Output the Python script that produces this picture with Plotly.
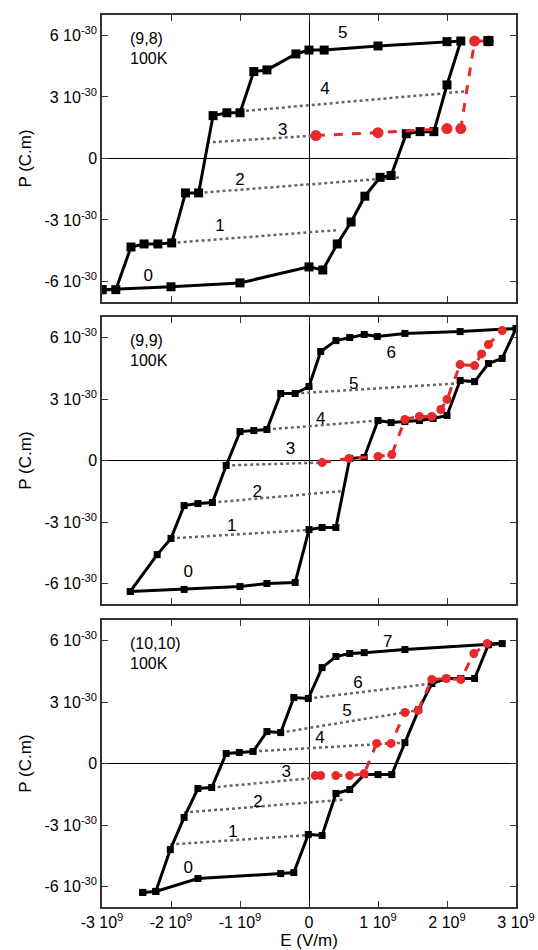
import plotly.graph_objects as go

# ---------------- data (E in 1e9 V/m, P in 1e-30 C.m) ----------------
# Panel 1: (9,8)
p1_black_E = [-3.0, -2.8, -2.58, -2.39, -2.19, -1.99, -1.79, -1.6, -1.39, -1.19, -1.0, -0.8, -0.61,
              -0.19, 0.0, 0.22, 1.0, 2.0, 2.2, 2.0, 1.81, 1.61, 1.41, 1.19, 1.03, 0.81, 0.61, 0.41,
              0.2, 0.0, -1.0, -2.0, -3.0]
p1_black_P = [-6.4, -6.4, -4.32, -4.17, -4.17, -4.12, -1.68, -1.68, 2.09, 2.23, 2.23, 4.24, 4.32,
              5.1, 5.29, 5.29, 5.49, 5.7, 5.73, 3.59, 1.31, 1.31, 1.21, -0.83, -0.92, -1.84, -3.1, -4.17,
              -5.44, -5.29, -6.07, -6.26, -6.4]
p1_red_E = [0.1, 1.0, 2.0, 2.2, 2.4, 2.6]
p1_red_P = [1.12, 1.26, 1.46, 1.46, 5.73, 5.73]
p1_tip_E = [2.6]
p1_tip_P = [5.73]
p1_minor = [([-1.99, 0.39], [-4.12, -3.5]),
            ([-1.6, 1.33], [-1.68, -0.92]),
            ([-1.48, 0.1], [0.78, 1.12]),
            ([-1.0, 2.26], [2.3, 3.27])]
p1_lab_E = [-2.33, -1.29, -1.0, -0.38, 0.23, 0.49]
p1_lab_P = [-5.78, -3.35, -1.07, 1.36, 3.35, 6.07]
p1_lab_T = ["0", "1", "2", "3", "4", "5"]

# Panel 2: (9,9)
p2_black_E = [-2.59, -2.2, -2.0, -1.81, -1.61, -1.4, -1.2, -1.0, -0.8, -0.61, -0.41, -0.2, 0.0,
              0.17, 0.39, 0.59, 0.8, 0.99, 1.39, 2.19, 3.0, 2.8, 2.6, 2.4, 2.19, 2.0, 1.8, 1.6,
              1.39, 1.19, 1.0, 0.8, 0.59, 0.39, 0.19, 0.0, -0.2, -0.61, -1.0, -1.81, -2.59]
p2_black_P = [-6.39, -4.59, -3.8, -2.2, -2.1, -2.05, -0.24, 1.41, 1.46, 1.51, 3.27, 3.27, 3.61,
              5.32, 5.85, 6.0, 6.15, 6.05, 6.2, 6.29, 6.44, 4.98, 4.73, 3.85, 3.9, 2.2, 2.05, 1.95,
              1.9, 1.85, 1.95, 0.15, 0.1, -3.27, -3.27, -3.37, -5.95, -6.0, -6.15, -6.29, -6.39]
p2_red_E = [0.19, 0.58, 1.0, 1.2, 1.39, 1.6, 1.78, 1.91, 2.0, 2.19, 2.4, 2.5, 2.6, 2.8]
p2_red_P = [-0.1, 0.1, 0.2, 0.29, 2.0, 2.15, 2.15, 2.49, 2.98, 4.68, 4.63, 5.2, 5.66, 6.34]
p2_minor = [([-2.0, -0.05], [-3.8, -3.4]),
            ([-1.4, 0.46], [-2.05, -1.5]),
            ([-1.2, 0.19], [-0.24, -0.1]),
            ([-0.61, 1.0], [1.51, 1.95]),
            ([-0.2, 2.1], [3.27, 3.75])]
p2_lab_E = [-1.75, -1.12, -0.75, -0.27, 0.17, 0.65, 1.19]
p2_lab_P = [-5.46, -3.22, -1.56, 0.54, 2.0, 3.7, 5.22]
p2_lab_T = ["0", "1", "2", "3", "4", "5", "6"]

# Panel 3: (10,10)
p3_black_E = [-2.41, -2.22, -2.01, -1.81, -1.61, -1.41, -1.2, -1.01, -0.81, -0.61, -0.41, -0.22,
              -0.01, 0.19, 0.39, 0.59, 0.8, 1.39, 2.6, 2.8, 2.6, 2.4, 2.2, 1.99, 1.78, 1.59, 1.39,
              1.2, 1.0, 0.8, 0.59, 0.39, 0.19, -0.01, -0.22, -0.41, -1.61, -2.22, -2.41]
p3_black_P = [-6.29, -6.24, -4.2, -2.63, -1.22, -1.17, 0.49, 0.54, 0.59, 1.56, 1.51, 3.22,
              3.17, 4.68, 5.22, 5.37, 5.41, 5.56, 5.8, 5.85, 5.8, 4.15, 4.15, 4.15, 3.9, 2.63, 1.02,
              -0.54, -0.54, -0.54, -1.27, -1.46, -3.51, -3.46, -5.32, -5.37, -5.61, -6.24, -6.29]
p3_red_E = [0.09, 0.17, 0.39, 0.59, 0.8, 0.98, 1.19, 1.39, 1.58, 1.78, 1.99, 2.2, 2.39, 2.58]
p3_red_P = [-0.59, -0.59, -0.59, -0.59, -0.49, 0.98, 0.98, 2.49, 2.59, 4.1, 4.15, 4.1, 5.37, 5.85]
p3_minor = [([-2.01, -0.05], [-3.95, -3.5]),
            ([-1.81, 0.52], [-2.39, -1.76]),
            ([-1.41, 0.09], [-1.17, -0.7]),
            ([-0.81, 1.39], [0.59, 1.02]),
            ([-0.41, 1.58], [1.51, 2.6]),
            ([-0.01, 1.78], [3.17, 3.9])]
p3_lab_E = [-1.75, -1.1, -0.74, -0.33, 0.16, 0.55, 0.71, 1.14]
p3_lab_P = [-5.12, -3.37, -1.9, -0.44, 1.22, 2.54, 3.9, 5.9]
p3_lab_T = ["0", "1", "2", "3", "4", "5", "6", "7"]

panel_titles = ["(9,8)", "(9,9)", "(10,10)"]
temp_label = "100K"

x_tickvals = [-3, -2, -1, 0, 1, 2, 3]
x_ticktext = ["-3 10<sup>9</sup>", "-2 10<sup>9</sup>", "-1 10<sup>9</sup>", "0",
              "1 10<sup>9</sup>", "2 10<sup>9</sup>", "3 10<sup>9</sup>"]
y_tickvals = [-6, -3, 0, 3, 6]
y_ticktext = ["-6 10<sup>-30</sup>", "-3 10<sup>-30</sup>", "0",
              "3 10<sup>-30</sup>", "6 10<sup>-30</sup>"]

# ---------------- figure ----------------
FONT = "Liberation Sans, Arial, Helvetica, sans-serif"
fig = go.Figure()

panels = [
    (p1_black_E, p1_black_P, p1_red_E, p1_red_P, p1_minor, p1_lab_E, p1_lab_P, p1_lab_T),
    (p2_black_E, p2_black_P, p2_red_E, p2_red_P, p2_minor, p2_lab_E, p2_lab_P, p2_lab_T),
    (p3_black_E, p3_black_P, p3_red_E, p3_red_P, p3_minor, p3_lab_E, p3_lab_P, p3_lab_T),
]
domains = [[0.6783, 1.0], [0.3397, 0.6614], [0.0, 0.3217]]

for i, (bE, bP, rE, rP, minor, lE, lP, lT) in enumerate(panels):
    n = "" if i == 0 else str(i + 1)
    xa, ya = "x" + n, "y" + n
    for mE, mP in minor:
        fig.add_trace(go.Scatter(x=mE, y=mP, xaxis=xa, yaxis=ya, mode="lines",
                                 line=dict(color="#666666", width=2.5, dash="dot"),
                                 showlegend=False, hoverinfo="skip"))
    fig.add_trace(go.Scatter(x=bE, y=bP, xaxis=xa, yaxis=ya, mode="lines+markers",
                             line=dict(color="black", width=3),
                             marker=dict(symbol="square", size=9 if i == 0 else 7, color="black"),
                             showlegend=False))
    fig.add_trace(go.Scatter(x=rE, y=rP, xaxis=xa, yaxis=ya, mode="lines+markers",
                             line=dict(color="#e8282b", width=3, dash="dash"),
                             marker=dict(symbol="circle", size=11 if i == 0 else 9, color="#e8282b"),
                             showlegend=False))
    if i == 0:
        fig.add_trace(go.Scatter(x=p1_tip_E, y=p1_tip_P, xaxis=xa, yaxis=ya, mode="markers",
                                 marker=dict(symbol="square", size=10, color="black"),
                                 showlegend=False))
    fig.add_trace(go.Scatter(x=lE, y=lP, xaxis=xa, yaxis=ya, mode="text", text=lT,
                             textfont=dict(family=FONT, size=17, color="black"),
                             showlegend=False, hoverinfo="skip"))
    fig.add_annotation(x=-2.62, y=5.87, xref=xa, yref=ya, text=panel_titles[i],
                       showarrow=False, xanchor="left", yanchor="middle",
                       font=dict(family=FONT, size=16, color="black"))
    fig.add_annotation(x=-2.62, y=4.9, xref=xa, yref=ya, text=temp_label,
                       showarrow=False, xanchor="left", yanchor="middle",
                       font=dict(family=FONT, size=16, color="black"))

    axis_common = dict(showline=True, linecolor="#333333", linewidth=1.5, mirror="allticks",
                       ticks="inside", ticklen=6, tickwidth=1, tickcolor="#333333",
                       showgrid=False, zeroline=True, zerolinecolor="black", zerolinewidth=1,
                       automargin=False,
                       tickfont=dict(family=FONT, size=16, color="black"))
    xaxis = dict(axis_common, domain=[0, 1], anchor=ya, range=[-3, 3],
                 tickvals=x_tickvals, ticktext=x_ticktext, showticklabels=(i == 2))
    if i == 2:
        xaxis["title"] = dict(text="E (V/m)", font=dict(family=FONT, size=17, color="black"),
                              standoff=12)
    yaxis = dict(axis_common, domain=domains[i], anchor=xa, range=[-7, 7],
                 tickvals=y_tickvals, ticktext=y_ticktext,
                 title=dict(text="P (C.m)", font=dict(family=FONT, size=17, color="black"),
                            standoff=8))
    fig.layout["xaxis" + n] = xaxis
    fig.layout["yaxis" + n] = yaxis

fig.update_layout(width=538, height=950, margin=dict(l=102, r=22, t=15, b=43),
                  plot_bgcolor="white", paper_bgcolor="white",
                  font=dict(family=FONT, color="black"))

fig.write_html("out.html")
